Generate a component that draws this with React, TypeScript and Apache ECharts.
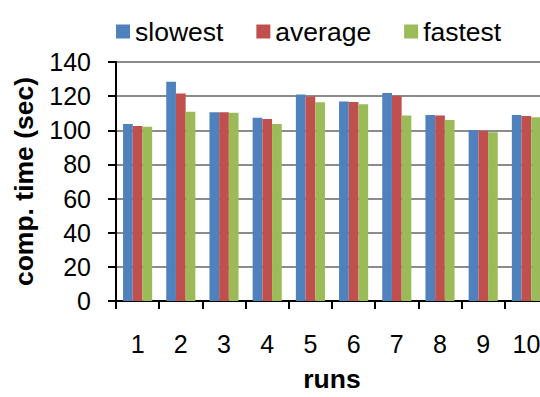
import React, { useEffect, useRef } from "react";
import * as echarts from "echarts";

const runs = ["1", "2", "3", "4", "5", "6", "7", "8", "9", "10"];
const slowest = [103.7, 128.5, 110.6, 107.3, 121.0, 116.9, 121.9, 109.0, 100.2, 108.9];
const average = [102.5, 121.5, 110.6, 106.6, 119.8, 116.5, 120.2, 108.7, 99.7, 108.3];
const fastest = [102.0, 110.8, 110.2, 103.7, 116.4, 115.2, 108.7, 106.0, 98.9, 107.7];
const seriesNames = ["slowest", "average", "fastest"];
const colors = ["#4F81BD", "#C0504D", "#9BBB59"];

const FONT = "'Liberation Sans', Arial, sans-serif";

export default function App() {
  const ref = useRef<HTMLDivElement>(null);
  useEffect(() => {
    document.body.style.margin = "0";
    if (!ref.current) return;
    const chart = echarts.init(ref.current, null, { renderer: "svg" });
    const values = [slowest, average, fastest];
    chart.setOption({
      animation: false,
      backgroundColor: "#ffffff",
      textStyle: { fontFamily: FONT, color: "#000" },
      legend: {
        left: 116,
        top: 18,
        padding: 0,
        itemWidth: 14,
        itemHeight: 14,
        itemGap: 33,
        icon: "rect",
        textStyle: { fontSize: 26.5, color: "#000", fontFamily: FONT },
        data: seriesNames,
      },
      grid: { left: 116, top: 62, width: 432, height: 243, containLabel: false },
      xAxis: {
        type: "category",
        data: runs,
        name: "runs",
        nameLocation: "middle",
        nameGap: 64,
        nameTextStyle: { fontSize: 26.5, fontWeight: "bold", color: "#000", fontFamily: FONT },
        axisLine: { lineStyle: { color: "#000", width: 2 } },
        axisTick: { show: true, length: 8, lineStyle: { color: "#000", width: 2 } },
        axisLabel: { fontSize: 25, color: "#000", margin: 30, fontFamily: FONT },
        splitLine: { show: false },
      },
      yAxis: {
        type: "value",
        min: 0,
        max: 140,
        interval: 20,
        name: "comp. time (sec)",
        nameLocation: "middle",
        nameGap: 79,
        nameRotate: 90,
        nameTextStyle: { fontSize: 26.5, fontWeight: "bold", color: "#000", fontFamily: FONT },
        axisLine: { show: true, lineStyle: { color: "#000", width: 2 } },
        axisTick: { show: true, length: 8, lineStyle: { color: "#000", width: 2 } },
        axisLabel: { fontSize: 25, color: "#000", margin: 25, fontFamily: FONT },
        splitLine: { show: true, lineStyle: { color: "#8c8c8c", width: 1.8 } },
      },
      series: seriesNames.map((name, i) => ({
        name,
        type: "bar",
        data: values[i],
        barWidth: 9.7,
        barGap: "0%",
        itemStyle: { color: colors[i] },
      })),
    });
    return () => chart.dispose();
  }, []);
  return (
    <div style={{ width: 540, height: 397, overflow: "hidden", position: "relative" }}>
      <div ref={ref} style={{ width: 570, height: 397 }} />
    </div>
  );
}
